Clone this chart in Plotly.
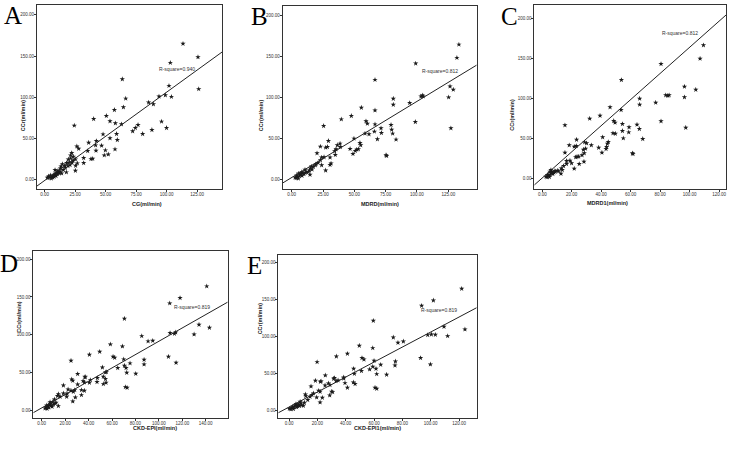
import plotly.graph_objects as go

# ---------------- data ----------------
A_x = [113.5,125.8,103.1,63.7,102,126.4,99,93.8,104,66.5,85.3,89.2,64.6,57.2,50.6,40.2,53.6,58,63,76.6,74.4,24.3,100,95.9,72.2,88,80.4,47.9,59,53.6,59.6,36.1,42.4,26.4,27.9,41.8,46.7,57.7,49.8,35.3,42.1,38,39.4,52.2,48.9,32,32,25.2,22.2,21.3,26.8,25.4,18,20.2,25.2,17.8,13.4,14.5,12.9,8.5,
       2.2,3.3,4.4,5.5,6.6,7.1,7.9,8.8,9.8,10.4,11.5,12,9.3,3,4.9,7.7,10.9,13.9,15.3,17,19.1,20.8,22.4,23.2,19.4,21.3,23.5,16.4,12.6]
A_y = [165,148.8,141.9,122,114,110,102.6,101,100.6,98.5,93.7,91.6,88,84.7,77.5,73.8,71,68.5,67.3,66.5,62.9,65.7,62.9,70.6,58.8,60.4,55.6,55.1,55.6,50.3,48.3,45,47,40.5,37.7,41.8,41.4,36.9,35.7,34.9,35.3,25.1,25.5,30.8,29.6,26.4,20.3,24.7,32.4,26,19.9,17,20.3,21,11,9,16.2,19,13.8,11.8,
       2.4,4,3.2,1.6,2.8,4.9,6,7.3,8.5,6.9,9.3,7.7,4.5,2.4,5.3,3.6,10.9,7.7,11.8,14.6,16.6,17.8,20.7,23.1,24.7,29.6,28,17,10.1]

B_x = [133.5,131.9,99,66.5,126.4,129,125.3,104.3,103.2,105,81.1,94.2,81.1,66.5,55.6,47.6,39.6,59.3,60.4,66.5,25.5,98.7,79.3,71.3,79.8,127.1,66,71.6,80.6,61.7,58.5,49.7,68.4,83.3,54.5,55.1,38.6,36.4,29.3,22.9,27.1,28.5,38.8,35.4,46.6,53.2,50.8,51.9,34.3,34.8,48.9,75.3,75.8,30.6,25.8,31.4,23.9,20.2,22.9,23.9,30.6,27.1,21,19.4,15.7,14.9,14.1,14.6,12,10.6,
       2.7,3.5,4.5,5.3,6.1,6.7,7.4,8,8.8,9.8,5.6,4,8.2,10.9,13.3,16.2,17.3,18.9]
B_y = [165,148.8,141.9,122,114,110,100.6,103,101.8,101.8,99,93.7,91.6,84.7,88,77.9,73.8,71.4,68.5,67.7,65.7,70.6,66.9,62.9,61.2,62.9,58.8,57.2,56.4,55.6,56.4,50.3,49.5,49.1,45,42.2,44.2,42.2,47.4,40.5,39.3,40.1,40.1,37.3,37.7,37.3,35.3,36.9,34.9,30.4,31.6,30,29.2,27.2,27.6,19.9,27.2,32.4,23.9,17.8,18.2,11.4,20.7,19.1,16.2,13.8,11.4,6.1,9.3,12.2,
       2.8,2,3.6,1.6,4.5,6.1,7.7,9.3,8.1,6.9,7.7,5.3,4.9,8.5,9.7,12.6,15.8,17.8]

C_x = [109.4,107.1,80.6,53.7,96.5,104.2,83.8,85.2,86.1,96.5,66.1,77,66.1,46,53.5,39.2,32.2,48.5,49.4,54.4,15.4,80.6,64.3,58.9,65.9,97.4,54.4,58.7,48,49.6,41,68.2,55,44.8,44.2,28.8,30.1,23.3,18.3,21.7,23.1,33.3,29.4,38.3,43.3,43.7,40.5,61.2,61.6,27.9,28.5,24.7,27,22.7,23.6,16.5,18.8,15.4,25.1,28.3,21.7,19.9,16.5,14.5,12.9,12.7,10.2,8.8,
       2.5,3.2,4.1,4.8,5.4,6.1,6.6,7.2,7.9,5.2,5.9,3.6,8.6,11.1,13.6]
C_y = [166.3,149.6,142.9,122.9,114.6,110.8,103.8,103.3,103.8,101.3,99.6,94.6,92.1,88.8,85.4,78.3,74.6,71.7,69.6,67.9,66.3,71.3,67.1,63.8,61.7,63.3,59.2,57.5,56.3,55.8,51.3,49.2,50,45.4,43.3,45,43.8,48.3,41.3,39.6,40.4,41.3,37.1,38.3,36.7,39.2,32.1,31.3,30.4,35.8,31.3,27.1,28.8,26.3,27.1,21.7,22.1,32.1,17.9,20.8,12.1,18.8,17.9,15.4,12.5,5.8,9.6,8.3,
       2.1,1.25,3.3,1.7,4.6,6.25,7.9,5.4,7.1,8.3,10.4,4.2,9.2,8.8,10.4]

D_x = [140.9,118.1,109.3,70.6,134.3,143.2,109.6,114.4,113.3,130.1,85.4,94.8,90.8,58.6,68.9,49.5,40.7,60.9,62.3,70,25,108.2,87.4,87.4,75.4,114.7,70.6,64.9,72,51.8,54.4,55.2,72.6,80.3,47.5,47.2,52.6,54.4,54.9,30.7,37,37,25.6,26.5,41.5,40.7,36.4,30.7,35.3,52.6,71.4,72.9,33.9,36.4,33.9,28.2,22.5,18.5,25,27,21.6,26.5,21.3,18.5,28.7,15.7,14.2,13.4,10.8,12.2,14.2,9.1,
       2.8,3.7,4.6,5.4,6.3,7.1,8,8.8,6,4.3,10,11.4,7.1]
D_y = [164.2,148.7,141.6,121.2,113.3,109.3,102.2,103.1,101.3,100.4,98.2,92,91.2,87.2,84.5,77.4,73.5,70.8,69.5,67.3,65.5,70.8,66.8,60.6,62,62.8,58.9,55.8,55.8,56.6,50,50.4,49.6,48.2,42.5,37.2,44.2,41.2,36.3,47.8,43.4,44.2,40.7,38.9,39.8,36.3,36.7,34.1,38.5,34.5,30.5,29.6,26.5,25.7,19.9,26.5,27.4,32.7,25.7,24.3,21.7,11.5,17.7,22.1,16.8,17.7,21.2,18.6,14.2,9.7,5.3,10.6,
       2.2,4,1.8,5.3,6.6,8.4,6.2,4.4,3.5,6.2,7.5,8.8,10.6]

E_x = [121.9,101.9,93.6,59.5,109.4,124.2,100.5,103.3,97.9,112,73.6,80.7,76.9,49.6,59.1,41.2,33.4,51.5,52.9,60,19.8,92.9,75.1,74.8,64.7,99.8,59.1,61.4,56.9,45.6,46.1,61.9,68.9,51.1,38.6,38.6,32,31.5,25.6,18.6,22.1,22.6,34.6,39.5,45.4,46.6,41.2,33.2,27.8,28.9,60.7,61.9,30.1,30.8,28.7,25.4,20.9,21.9,15.5,23.5,21.9,19.5,17.2,16.2,11.5,11.8,13.2,14.8,10.8,10.1,8.5,7.8,
       0.2,1.2,2.1,3.1,3.8,4.5,5.4,6.1,6.8,4.9,7.3,2.6,8.9]
E_y = [164.7,148.9,141.7,121.4,113.3,109.7,102.9,102.4,102,100.6,98.8,93.4,91.6,87.6,84.4,76.7,73.1,70.9,69,67.2,65.4,70.9,66.3,60.9,61.8,62.3,59.1,56.4,55.5,56.4,49.6,49.2,48.3,53.3,44.7,43.3,43.8,42.9,47.4,40.2,38.8,39.3,40.6,37,37.9,35.7,30.7,39.7,36.6,34.3,30.7,29.3,25.3,24.8,20.3,33.8,26.6,25.3,32.5,17.1,10.8,17.6,23,20.8,21.7,19.4,14,18.5,10.4,6.3,9.5,11.7,
       2.3,1.4,3.2,1.8,5,6.8,4.1,5.9,8.1,8.6,5.9,5,6.8]

panel_letters = ["A", "B", "C", "D", "E"]
x_titles = ["CG(ml/min)", "MDRD(ml/min)", "MDRD1(ml/min)", "CKD-EPI(ml/min)", "CKD-EPI1(ml/min)"]
y_title = "CCr(ml/min)"
r_square_labels = ["R-square=0.940", "R-square=0.812", "R-square=0.812", "R-square=0.819", "R-square=0.819"]
fit_slope = [1.071, 0.929, 1.633, 0.884, 1.016]
fit_intercept = [-0.95, 2.7, 0.4, 2.8, 4.4]
x_tickvals = [[0, 25, 50, 75, 100, 125], [0, 25, 50, 75, 100, 125],
              [0, 20, 40, 60, 80, 100, 120], [0, 20, 40, 60, 80, 100, 120, 140],
              [0, 20, 40, 60, 80, 100, 120]]
y_tickvals = [0, 50, 100, 150, 200]
r_label_pos = [(108.4, 133.8), (118, 132.9), (93.6, 181.3), (128.3, 136.2), (105.7, 135.9)]

xs = [A_x, B_x, C_x, D_x, E_x]
ys = [A_y, B_y, C_y, D_y, E_y]

# ---------------- layout geometry ----------------
W, H = 750, 458
frames = [(37, 222, 5, 189), (282.7, 476.7, 6, 189), (534.3, 726, 5, 189),
          (33.3, 227.7, 251, 418), (278.3, 476.7, 254.7, 418)]
x_ranges = [(-6.3, 145.5), (-7.2, 147.7), (-5.4, 124.7), (-7.2, 158.8), (-7.6, 132.5)]
y_ranges = [(-11.3, 212), (-11.3, 212), (-13.4, 216.6), (-10.6, 211), (-10.4, 210.8)]
# centre of each big panel letter (pixels)
letter_pos = [(13, 15), (259.5, 16.5), (509.5, 16.5), (8.5, 263.5), (254, 265.5)]
xtitle_y = [204, 204, 203, 432.7, 433.3]
ytitle_x = [18.3, 261.7, 516.7, 13.3, 260]

fig = go.Figure()
layout = dict(width=W, height=H, margin=dict(l=0, r=0, t=0, b=0),
              paper_bgcolor="white", plot_bgcolor="white", showlegend=False)
annotations = []
axis_font = dict(family="Liberation Sans", size=4.5, color="#333")

for i in range(5):
    sfx = "" if i == 0 else str(i + 1)
    xa, ya = "x" + sfx, "y" + sfx
    l, r, t, b = frames[i]
    layout["xaxis" + sfx] = dict(
        domain=[l / W, r / W], anchor=ya, range=list(x_ranges[i]),
        tickvals=x_tickvals[i], tickformat=".2f", ticks="outside", ticklen=2,
        ticklabelstandoff=-1,
        tickcolor="#333", showline=True, linecolor="#333", linewidth=1, mirror=True,
        showgrid=False, zeroline=False, tickfont=axis_font)
    layout["yaxis" + sfx] = dict(
        domain=[1 - b / H, 1 - t / H], anchor=xa, range=list(y_ranges[i]),
        tickvals=y_tickvals, tickformat=".2f", ticks="outside", ticklen=2,
        ticklabelstandoff=-1,
        tickcolor="#333", showline=True, linecolor="#333", linewidth=1, mirror=True,
        showgrid=False, zeroline=False, tickfont=axis_font)

    fig.add_trace(go.Scatter(x=xs[i], y=ys[i], mode="markers", xaxis=xa, yaxis=ya,
                             marker=dict(symbol="star", size=4, color="#1a1a1a",
                                         line=dict(width=0)), hoverinfo="skip"))
    x0, x1 = x_ranges[i]
    fig.add_trace(go.Scatter(x=[x0, x1],
                             y=[fit_slope[i] * x0 + fit_intercept[i], fit_slope[i] * x1 + fit_intercept[i]],
                             mode="lines", xaxis=xa, yaxis=ya,
                             line=dict(color="#222", width=1), hoverinfo="skip"))

    annotations.append(dict(text=r_square_labels[i], x=r_label_pos[i][0], y=r_label_pos[i][1],
                            xref=xa, yref=ya, showarrow=False,
                            font=dict(family="Liberation Sans", size=5, color="#333")))
    annotations.append(dict(text=panel_letters[i], x=letter_pos[i][0] / W, y=1 - letter_pos[i][1] / H,
                            xref="paper", yref="paper", xanchor="center", yanchor="middle", showarrow=False,
                            borderpad=0,
                            font=dict(family="Liberation Serif", size=25, color="black")))
    annotations.append(dict(text="<b>" + x_titles[i] + "</b>", x=(l + r) / 2 / W, y=1 - xtitle_y[i] / H,
                            xref="paper", yref="paper", showarrow=False,
                            font=dict(family="Liberation Sans", size=5.5, color="#222")))
    annotations.append(dict(text="<b>" + y_title + "</b>", x=ytitle_x[i] / W, y=1 - (t + b) / 2 / H,
                            xref="paper", yref="paper", showarrow=False, textangle=-90,
                            font=dict(family="Liberation Sans", size=5.5, color="#222")))

layout["annotations"] = annotations
fig.update_layout(**layout)
fig.write_html("out.html")
